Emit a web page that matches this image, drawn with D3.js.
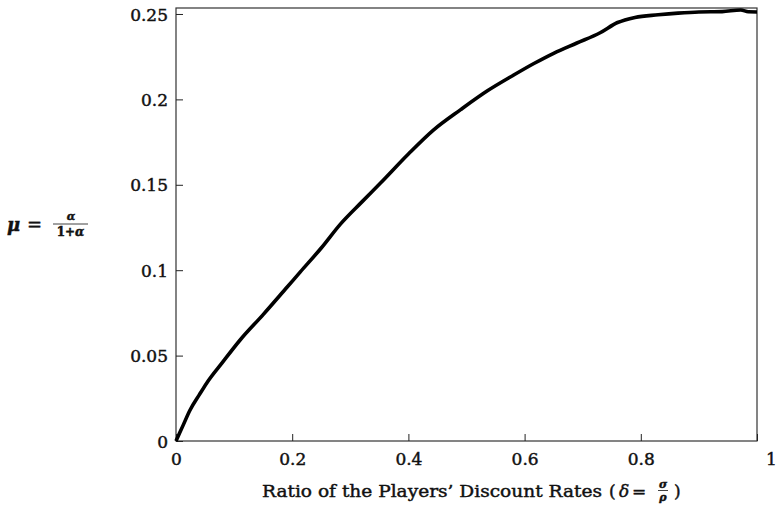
<!DOCTYPE html>
<html><head><meta charset="utf-8">
<script src="https://cdn.jsdelivr.net/npm/d3@7"></script>
<style>
body{margin:0;background:#fff;}
text{font-family:"DejaVu Serif","Liberation Serif",serif;fill:#111;stroke:#111;stroke-width:0.45px;}
</style></head>
<body><svg id="c" width="776" height="508"></svg>
<script>
const deltaValues = [0, 0.012, 0.024, 0.04, 0.053, 0.08, 0.11, 0.15, 0.191, 0.214, 0.25, 0.283, 0.32, 0.352, 0.4, 0.443, 0.49, 0.536, 0.58, 0.616, 0.65, 0.69, 0.73, 0.76, 0.79, 0.83, 0.864, 0.9, 0.94, 0.972, 0.985, 1.0];
const muValues    = [0, 0.009, 0.018, 0.027, 0.034, 0.046, 0.059, 0.074, 0.090, 0.099, 0.113, 0.127, 0.140, 0.151, 0.168, 0.182, 0.194, 0.205, 0.214, 0.221, 0.227, 0.233, 0.239, 0.245, 0.248, 0.2495, 0.2505, 0.2512, 0.2514, 0.2523, 0.2513, 0.2512];
const xTicks = [0, 0.2, 0.4, 0.6, 0.8, 1];
const yTicks = [0, 0.05, 0.1, 0.15, 0.2, 0.25];
const xTickLabels = ["0", "0.2", "0.4", "0.6", "0.8", "1"];
const yTickLabels = ["0", "0.05", "0.1", "0.15", "0.2", "0.25"];

const svg = d3.select("#c");
const x = d3.scaleLinear().domain([0, 1]).range([176, 757]);
const y = d3.scaleLinear().domain([0, 0.2535]).range([441, 8]);

// frame
svg.append("rect").attr("x", x(0)).attr("y", y(0.2535)).attr("width", x(1) - x(0)).attr("height", y(0) - y(0.2535))
  .attr("fill", "none").attr("stroke", "#333").attr("stroke-width", 1.2);

const fs = 17;
const xa = svg.append("g").attr("transform", `translate(0,${y(0)})`)
  .call(d3.axisTop(x).tickValues(xTicks).tickSize(7).tickFormat((d,i)=>xTickLabels[i]));
xa.select(".domain").remove();
xa.selectAll("line").attr("stroke", "#222");
xa.selectAll("text").attr("y", 24).attr("dy", "0").style("font-size", fs + "px")
  .attr("dx", (d) => d === 1 ? 14 : 0);

const ya = svg.append("g").attr("transform", `translate(${x(0)},0)`)
  .call(d3.axisRight(y).tickValues(yTicks).tickSize(7).tickFormat((d,i)=>yTickLabels[i]));
ya.select(".domain").remove();
ya.selectAll("line").attr("stroke", "#222");
ya.selectAll("text").attr("x", -8).attr("text-anchor", "end").attr("dy", "0.36em")
  .style("font-size", fs + "px");

// curve
const pts = deltaValues.map((d, i) => [d, muValues[i]]);
svg.append("path").datum(pts)
  .attr("fill", "none").attr("stroke", "#000").attr("stroke-width", 3.6).attr("stroke-linejoin", "round")
  .attr("d", d3.line().x(d => x(d[0])).y(d => y(d[1])).curve(d3.curveMonotoneX));

// x label
svg.append("text").attr("x", 262).attr("y", 497).style("font-size", "17px")
  .attr("textLength", 340).attr("lengthAdjust", "spacingAndGlyphs")
  .text("Ratio of the Players’ Discount Rates");
svg.append("text").attr("x", 609).attr("y", 497).style("font-size", "17px").text("(");
svg.append("text").attr("x", 619).attr("y", 497).style("font-size", "17px").style("font-style", "italic").text("δ");
svg.append("text").attr("x", 632).attr("y", 497).style("font-size", "17px").text("=");
svg.append("text").attr("x", 663).attr("y", 488).attr("text-anchor", "middle").style("font-size", "11px").style("font-style", "italic").style("font-weight","bold").text("σ");
svg.append("line").attr("x1", 658).attr("x2", 668).attr("y1", 490.5).attr("y2", 490.5).attr("stroke", "#111").attr("stroke-width", 0.8);
svg.append("text").attr("x", 663).attr("y", 501).attr("text-anchor", "middle").style("font-size", "11px").style("font-style", "italic").style("font-weight","bold").text("ρ");
svg.append("text").attr("x", 674).attr("y", 497).style("font-size", "17px").text(")");

// y label
svg.append("text").attr("x", 7).attr("y", 231).style("font-size", "18px").style("font-style", "italic").style("font-weight","bold").text("μ");
svg.append("text").attr("x", 27).attr("y", 231).style("font-size", "18px").text("=");
svg.append("text").attr("x", 71).attr("y", 220).attr("text-anchor", "middle").style("font-size", "11px").style("font-style","italic").style("font-weight", "bold").text("α");
svg.append("line").attr("x1", 53).attr("x2", 88).attr("y1", 224).attr("y2", 224).attr("stroke", "#111").attr("stroke-width", 0.8);
svg.append("text").attr("x", 70.5).attr("y", 236).attr("text-anchor", "middle").style("font-size", "12px").style("font-weight", "bold")
  .html('1+<tspan font-style="italic">α</tspan>');
</script></body></html>
